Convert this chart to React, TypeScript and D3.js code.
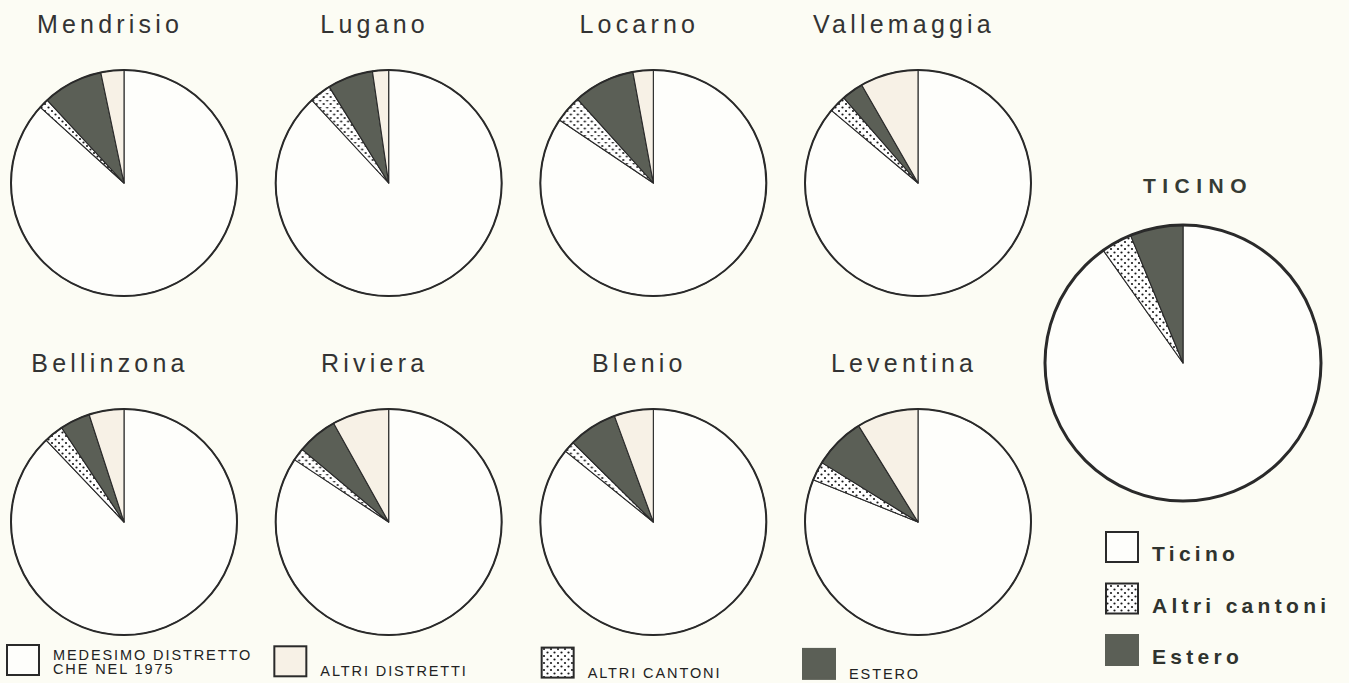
import React, { useRef, useEffect } from 'react';
import * as d3 from 'd3';

// categories in clockwise drawing order starting at 12 o'clock
const categories = ['medesimo', 'cantoni', 'estero', 'distretti'];

const districts = ['Mendrisio', 'Lugano', 'Locarno', 'Vallemaggia', 'Bellinzona', 'Riviera', 'Blenio', 'Leventina'];
// percent shares
const medesimo = [86.7, 88.1, 84.4, 86.1, 87.9, 84.3, 85.8, 81.1];
const cantoni = [1.4, 3.1, 3.9, 2.5, 2.8, 1.8, 1.6, 2.7];
const estero = [8.6, 6.5, 8.8, 3.1, 4.3, 5.8, 7.0, 7.4];
const distretti = [3.3, 2.3, 2.9, 8.3, 5.0, 8.1, 5.6, 8.8];

const ticinoLabel = 'TICINO';
const ticinoValues = [90.2, 3.6, 6.2, 0];

const bottomLegend = [
  { key: 'medesimo', lines: ['MEDESIMO DISTRETTO', 'CHE NEL 1975'] },
  { key: 'distretti', lines: ['ALTRI DISTRETTI'] },
  { key: 'cantoni', lines: ['ALTRI CANTONI'] },
  { key: 'estero', lines: ['ESTERO'] },
];
const rightLegend = [
  { key: 'medesimo', label: 'Ticino' },
  { key: 'cantoni', label: 'Altri cantoni' },
  { key: 'estero', label: 'Estero' },
];

const BG = '#fcfcf4';
const INK = '#2a2a2a';
const DARK = '#5b5f56';
const LIGHT = '#f7f1e6';

export default function App() {
  const svgRef = useRef<SVGSVGElement | null>(null);

  useEffect(() => {
    document.body.style.margin = '0';
    if (!svgRef.current) return;
    const svg = d3.select(svgRef.current);
    svg.selectAll('*').remove();

    const width = 1349;
    const height = 683;

    svg.append('rect').attr('width', width).attr('height', height).attr('fill', BG);

    const defs = svg.append('defs');
    const pat = defs.append('pattern')
      .attr('id', 'dots')
      .attr('patternUnits', 'userSpaceOnUse')
      .attr('width', 7)
      .attr('height', 7);
    pat.append('rect').attr('width', 7).attr('height', 7).attr('fill', '#ffffff');
    pat.append('circle').attr('cx', 1.5).attr('cy', 1.5).attr('r', 1.1).attr('fill', '#1a1a1a');
    pat.append('circle').attr('cx', 5).attr('cy', 5).attr('r', 1.1).attr('fill', '#1a1a1a');

    const fillOf = (k: string) =>
      k === 'medesimo' ? '#fefefb' : k === 'cantoni' ? 'url(#dots)' : k === 'estero' ? DARK : LIGHT;

    const pie = d3.pie<number>().sort(null).value(d => d);

    const cols = d3.scalePoint<number>().domain([0, 1, 2, 3]).range([124, 918]);
    const rows = d3.scalePoint<number>().domain([0, 1]).range([183, 522]);

    const drawPie = (cx: number, cy: number, r: number, values: number[], rim: number) => {
      const g = svg.append('g').attr('transform', `translate(${cx},${cy})`);
      const arc = d3.arc<d3.PieArcDatum<number>>().innerRadius(0).outerRadius(r);
      const arcs = pie(values);
      g.selectAll('path.slice')
        .data(arcs)
        .enter().append('path')
        .attr('class', 'slice')
        .attr('d', d => arc(d))
        .attr('fill', (d, i) => fillOf(categories[i]))
        .attr('stroke', INK)
        .attr('stroke-width', d => (d.endAngle - d.startAngle > 0 ? 1.1 : 0))
        .attr('stroke-linejoin', 'round');
      g.append('circle')
        .attr('r', r)
        .attr('fill', 'none')
        .attr('stroke', INK)
        .attr('stroke-width', rim);
    };

    districts.forEach((name, i) => {
      const cx = cols(i % 4)!;
      const cy = rows(Math.floor(i / 4))!;
      drawPie(cx, cy, 113, [medesimo[i], cantoni[i], estero[i], distretti[i]], 2);
      svg.append('text')
        .attr('x', cx - 14)
        .attr('y', cy - 150)
        .attr('text-anchor', 'middle')
        .attr('font-family', 'Liberation Sans, Arial, sans-serif')
        .attr('font-size', 25)
        .attr('letter-spacing', 4.2)
        .attr('fill', '#333333')
        .text(name);
    });

    // Ticino total
    drawPie(1183, 363, 138, ticinoValues, 3);
    svg.append('text')
      .attr('x', 1198)
      .attr('y', 193)
      .attr('text-anchor', 'middle')
      .attr('font-family', 'Liberation Sans, Arial, sans-serif')
      .attr('font-weight', 'bold')
      .attr('font-size', 21)
      .attr('letter-spacing', 6.5)
      .attr('fill', '#363b34')
      .text(ticinoLabel);

    // bottom legend
    const legX = d3.scalePoint<number>().domain([0, 1, 2, 3]).range([7, 803]);
    bottomLegend.forEach((item, i) => {
      const x = legX(i)! + (i === 1 ? 2 : 0) + (i === 2 ? 4 : 0);
      const y = 645 + i * 1.3;
      svg.append('rect')
        .attr('x', x).attr('y', y)
        .attr('width', 32).attr('height', 30)
        .attr('fill', fillOf(item.key))
        .attr('stroke', item.key === 'estero' ? DARK : INK)
        .attr('stroke-width', 2);
      item.lines.forEach((line, j) => {
        svg.append('text')
          .attr('x', x + 46)
          .attr('y', item.lines.length > 1 ? y + 15 + j * 13.5 : y + 30)
          .attr('font-family', 'Liberation Sans, Arial, sans-serif')
          .attr('font-size', 14.5)
          .attr('letter-spacing', 1.9)
          .attr('fill', '#222222')
          .text(line);
      });
    });

    // right legend
    rightLegend.forEach((item, i) => {
      const y = 532 + i * 51.5;
      svg.append('rect')
        .attr('x', 1106).attr('y', y)
        .attr('width', 32).attr('height', 30)
        .attr('fill', fillOf(item.key))
        .attr('stroke', item.key === 'estero' ? DARK : INK)
        .attr('stroke-width', 2);
      svg.append('text')
        .attr('x', 1152)
        .attr('y', y + 29)
        .attr('font-family', 'Liberation Sans, Arial, sans-serif')
        .attr('font-weight', 'bold')
        .attr('font-size', 21)
        .attr('letter-spacing', 4.3)
        .attr('fill', '#2f332e')
        .text(item.label);
    });
  }, []);

  return (
    <svg
      ref={svgRef}
      width={1349}
      height={683}
      viewBox="0 0 1349 683"
      style={{ display: 'block' }}
    />
  );
}
